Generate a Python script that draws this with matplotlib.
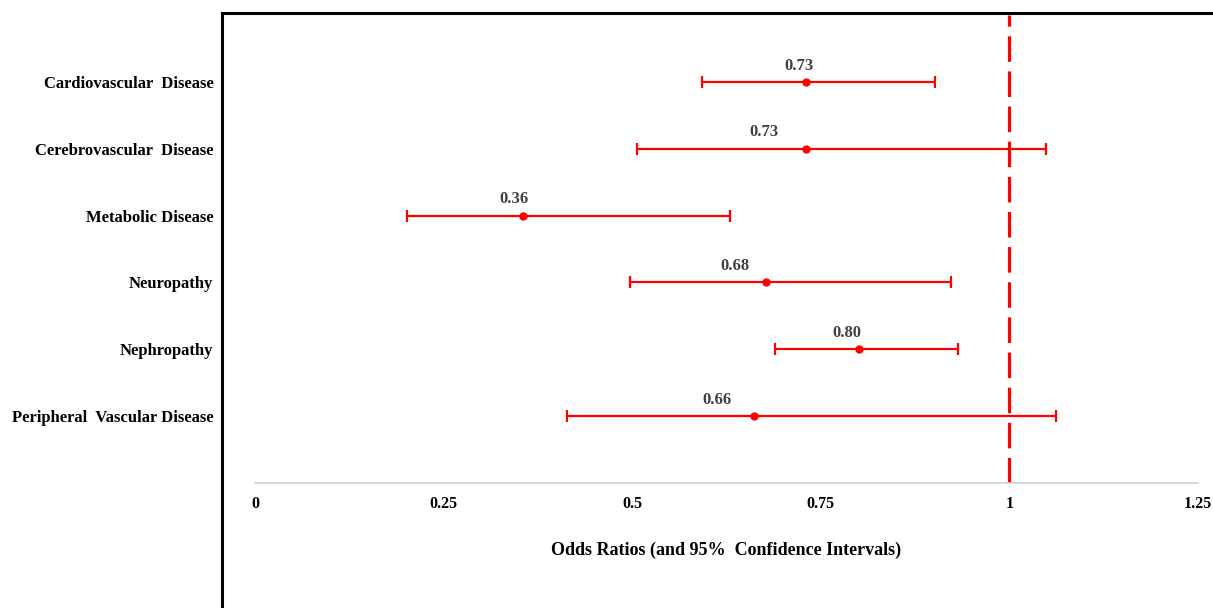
import matplotlib.pyplot as plt
from matplotlib.lines import Line2D

# --- данные ---
categories = ['Cardiovascular  Disease', 'Cerebrovascular  Disease', 'Metabolic Disease',
              'Neuropathy', 'Nephropathy', 'Peripheral  Vascular Disease']
odds = [0.73, 0.73, 0.355, 0.677, 0.80, 0.662]
ci_low = [0.592, 0.507, 0.201, 0.497, 0.689, 0.413]
ci_high = [0.901, 1.049, 0.629, 0.922, 0.932, 1.062]
value_labels = ['0.73', '0.73', '0.36', '0.68', '0.80', '0.66']
xticks = [0, 0.25, 0.5, 0.75, 1, 1.25]
xtick_labels = ['0', '0.25', '0.5', '0.75', '1', '1.25']

plt.rcParams['font.family'] = ['Liberation Serif', 'DejaVu Serif']
plt.rcParams['font.weight'] = 'bold'

fig = plt.figure(figsize=(12.13, 6.08), dpi=100)
ax = fig.add_axes([255/1213, 125/608, 943/1213, 468/608])

ypos = list(range(len(categories), 0, -1))
err_lo = [o - l for o, l in zip(odds, ci_low)]
err_hi = [h - o for o, h in zip(odds, ci_high)]

ax.errorbar(odds, ypos, xerr=[err_lo, err_hi], fmt='o', color='red', ecolor='red',
            elinewidth=1.6, capsize=4, capthick=1.6, markersize=5, zorder=3)

# подписи сдвинуты влево как в исходнике (смещение в пунктах)
label_shift = [-5, -30, -6.5, -22, -8.5, -27]
for o, y, lab, dx in zip(odds, ypos, value_labels, label_shift):
    ax.annotate(lab, (o, y), xytext=(dx, 6), textcoords='offset points',
                ha='center', va='bottom', fontsize=12, fontweight='bold',
                color='#404040')

# референсная линия OR = 1
ax.plot([1, 1], [0, 7], color='red', linestyle=(0, (8, 3)), linewidth=2.3, zorder=2)

ax.set_xlim(0, 1.25)
ax.set_ylim(0, 7)
ax.set_xticks(xticks)
ax.set_xticklabels(xtick_labels, fontsize=11.5, fontweight='bold')
ax.set_yticks(ypos)
ax.set_yticklabels(categories, fontsize=12, fontweight='bold')
ax.tick_params(axis='both', length=0)
ax.tick_params(axis='x', pad=9)
ax.tick_params(axis='y', pad=30)

for s in ['top', 'right', 'left']:
    ax.spines[s].set_visible(False)
ax.spines['bottom'].set_color('#d0d0d0')
ax.spines['bottom'].set_linewidth(1.2)

ax.set_xlabel('Odds Ratios (and 95%  Confidence Intervals)', fontsize=13,
              fontweight='bold', labelpad=22)

# чёрная рамка слева и сверху
x0 = 222 / 1213
ytop = 595 / 608
fig.add_artist(Line2D([x0, x0], [0, ytop], color='black', linewidth=2.2,
                      transform=fig.transFigure))
fig.add_artist(Line2D([x0, 1], [ytop, ytop], color='black', linewidth=2.2,
                      transform=fig.transFigure))

fig.savefig('out.png', dpi=100)
